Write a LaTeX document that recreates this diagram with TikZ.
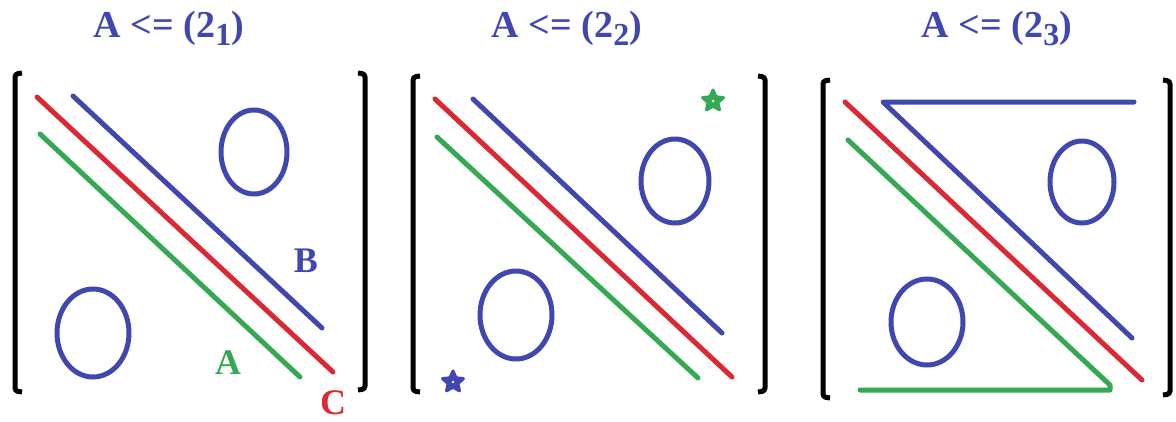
\documentclass[tikz,border=0pt]{standalone}
\usepackage{fontspec}
\setmainfont{Liberation Serif}[BoldFont={Liberation Serif Bold}]
\newfontfamily\ttlfont{Liberation Serif Bold}
\usetikzlibrary{shapes.geometric}
\definecolor{cblue}{RGB}{64,72,176}
\definecolor{cred}{RGB}{218,40,52}
\definecolor{cgreen}{RGB}{52,168,82}
\tikzset{
  pen/.style={line width=5pt, line cap=round, line join=round},
  brk/.style={line width=5pt, black, rounded corners=3pt},
  ttl/.style={anchor=base, text=cblue, font=\ttlfont\fontsize{38}{38}\selectfont, inner sep=0pt},
  lbl/.style={anchor=base, font=\ttlfont\fontsize{36}{36}\selectfont, inner sep=0pt},
  starshape/.style={star, star points=5, star point ratio=2.1, minimum size=22pt, inner sep=0pt, line width=3pt, line join=round},
}
\newcommand{\subtwo}[1]{2\raisebox{-8pt}{\fontsize{32}{32}\selectfont #1}}
\begin{document}
\begin{tikzpicture}[x=1pt,y=-1pt]
\useasboundingbox (0,0) rectangle (1176,421);
% titles
\node[ttl] (t1) at (169,37) {A <= (\subtwo{1})};
\node[ttl] (t2) at (567,37) {A <= (\subtwo{2})};
\node[ttl] (t3) at (997,37) {A <= (\subtwo{3})};
% brackets
\draw[brk] (22,73) -- (15,74) -- (15,391) -- (22,392);
\draw[brk] (358,73) -- (365,74) -- (365,389) -- (358,390);
\draw[brk] (420,76) -- (413,77) -- (413,391) -- (420,392);
\draw[brk] (758,76) -- (765,77) -- (765,391) -- (758,392);
\draw[brk] (830,80) -- (823,81) -- (823,397) -- (830,398);
\draw[brk] (1163,80) -- (1170,81) -- (1170,394) -- (1163,395);
% panel 1
\draw[pen, cblue] (73,96) -- (322,328);
\draw[pen, cred] (37,97) -- (333,372);
\draw[pen, cgreen] (40,134) -- (300,377);
\draw[pen, cblue] (254,152) ellipse [x radius=33, y radius=42];
\draw[pen, cblue] (93,333) ellipse [x radius=36, y radius=44];
\node[lbl, text=cblue] (lb) at (306,272) {B};
\node[lbl, text=cgreen] (la) at (228,374) {A};
\node[lbl, text=cred] (lc) at (333,414) {C};
% panel 2
\draw[pen, cblue] (473,99) -- (722,333);
\draw[pen, cred] (435,99) -- (732,377);
\draw[pen, cgreen] (437,137) -- (698,378);
\draw[pen, cblue] (675,181) ellipse [x radius=34, y radius=42];
\draw[pen, cblue] (516,315) ellipse [x radius=36, y radius=44];
\node[starshape, draw=cblue, fill=cblue] (s1) at (453,382) {};
\fill[white] (s1.center) circle (1.3);
\node[starshape, draw=cgreen, fill=cgreen] (s2) at (713,101) {};
\fill[white] (s2.center) circle (1.3);
% panel 3
\draw[pen, cblue] (1134,102) -- (883,102) -- (1132,338);
\draw[pen, cred] (845,102) -- (1142,380);
\draw[pen, cgreen] (848,140) -- (1110,385) -- (1110,390) -- (860,390);
\draw[pen, cblue] (1082,182) ellipse [x radius=32, y radius=41];
\draw[pen, cblue] (927,322) ellipse [x radius=36, y radius=43];
\end{tikzpicture}
\end{document}
